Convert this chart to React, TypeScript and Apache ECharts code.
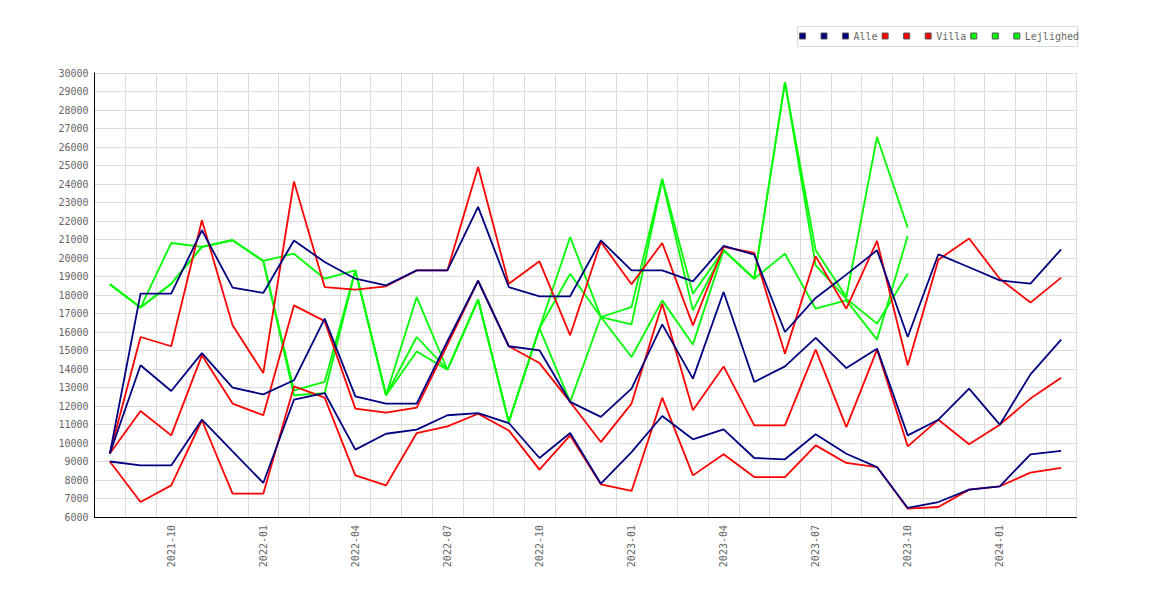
import React, { useEffect, useRef } from 'react';
import * as echarts from 'echarts';

const months = [
  '2021-08', '2021-09', '2021-10', '2021-11', '2021-12',
  '2022-01', '2022-02', '2022-03', '2022-04', '2022-05', '2022-06', '2022-07', '2022-08', '2022-09', '2022-10', '2022-11', '2022-12',
  '2023-01', '2023-02', '2023-03', '2023-04', '2023-05', '2023-06', '2023-07', '2023-08', '2023-09', '2023-10', '2023-11', '2023-12',
  '2024-01', '2024-02', '2024-03',
];

const alleHigh = [9430, 18070, 18070, 21500, 18400, 18110, 20950, 19780, 18880, 18520, 19330, 19330, 22760, 18430, 17930, 17930, 20950, 19330, 19330, 18740, 20650, 20180, 16000, 17840, 19100, 20420, 15730, 20200, 19500, 18790, 18610, 20470];
const alleMid = [9430, 14200, 12810, 14860, 12990, 12630, 13390, 16720, 12520, 12130, 12130, 15500, 18770, 15230, 15010, 12220, 11410, 12940, 16410, 13480, 18160, 13300, 14140, 15680, 14050, 15100, 10410, 11260, 12940, 10990, 13710, 15590];
const alleLow = [9000, 8790, 8790, 11260, 9550, 7840, 12340, 12700, 9640, 10500, 10720, 11500, 11620, 11080, 9190, 10540, 7800, 9510, 11460, 10200, 10740, 9190, 9120, 10470, 9420, 8700, 6490, 6810, 7480, 7660, 9390, 9570];

const villaHigh = [9430, 15730, 15230, 22040, 16360, 13780, 24140, 18430, 18290, 18470, 19330, 19330, 24920, 18610, 19820, 15820, 20860, 18580, 20810, 16360, 20600, 20270, 14830, 20090, 17260, 20920, 14200, 19910, 21050, 18880, 17590, 18940];
const villaMid = [9430, 11730, 10410, 14740, 12130, 11500, 17440, 16590, 11860, 11640, 11910, 15300, 18770, 15230, 14320, 12220, 10050, 12130, 17530, 11770, 14140, 10950, 10950, 15050, 10860, 15050, 9820, 11260, 9930, 10990, 12400, 13530];
const villaLow = [9000, 6810, 7710, 11230, 7260, 7260, 13060, 12450, 8250, 7710, 10540, 10900, 11580, 10680, 8560, 10410, 7770, 7410, 12450, 8250, 9390, 8160, 8160, 9870, 8920, 8700, 6450, 6540, 7480, 7660, 8400, 8650];

const lejlighedHigh = [18580, 17320, 20810, 20600, 20960, 19840, 20230, 18880, 19330, 12580, 17890, 13960, 17750, 11130, 16200, 21130, 16810, 17350, 24290, 18070, 20420, 18880, 29510, 20420, 17890, 26540, 21640, null, null, null, null, null];
const lejlighedMid = [18580, 17320, 18610, 20600, 20960, 19840, 12850, 13300, 19330, 12580, 15730, 13960, 17750, 11130, 16200, 19150, 16810, 16410, 24200, 17170, 20420, 18880, 29510, 19600, 17800, 16450, 19150, null, null, null, null, null];
const lejlighedLow = [18580, 17320, 18610, 20600, 20960, 19840, 12580, 12700, 19330, 12580, 14950, 13960, 17750, 11130, 16200, 12220, 16810, 14650, 17710, 15330, 20420, 18880, 20230, 17260, 17710, 15590, 21190, null, null, null, null, null];

const groupNames = ['Alle', 'Villa', 'Lejlighed'];
const groupColors = ['#000080', '#ff0000', '#00ff00'];

const FONT = "'DejaVu Sans Mono', monospace";

export default function App() {
  const ref = useRef<HTMLDivElement>(null);

  useEffect(() => {
    const chart = echarts.init(ref.current!, null, { renderer: 'svg' });
    const groupData = [
      [alleLow, alleMid, alleHigh],
      [villaLow, villaMid, villaHigh],
      [lejlighedLow, lejlighedMid, lejlighedHigh],
    ];

    const mk = (name: string, data: (number | null)[], color: string) => ({
      name,
      type: 'line',
      data,
      color,
      symbol: 'none',
      showSymbol: false,
      connectNulls: false,
      silent: true,
      lineStyle: { width: 1.8, color },
      itemStyle: { color },
      emphasis: { disabled: true },
    });

    const series: any[] = [];
    // green drawn first, then red, then blue on top
    for (let g = 2; g >= 0; g--) {
      const nm = groupNames[g];
      series.push(mk(nm + '#1', groupData[g][0], groupColors[g]));
      series.push(mk(nm + '#2', groupData[g][1], groupColors[g]));
      series.push(mk(nm, groupData[g][2], groupColors[g]));
    }

    const legendNames: string[] = [];
    groupNames.forEach((nm) => legendNames.push(nm + '#1', nm + '#2', nm));

    const textStyle = { fontFamily: FONT, fontSize: 10, color: '#666' };

    chart.setOption({
      animation: false,
      backgroundColor: '#fff',
      grid: { left: 94.5, right: 93.5, top: 73, bottom: 83, containLabel: false },
      legend: {
        data: legendNames,
        left: 799,
        top: 31,
        padding: 0,
        itemGap: 4,
        itemWidth: 6,
        itemHeight: 6,
        icon: 'rect',
        selectedMode: false,
        formatter: (n: string) => (n.indexOf('#') >= 0 ? ' ' : n),
        textStyle,
        itemStyle: { borderColor: '#555', borderWidth: 1 },
      },
      graphic: [
        {
          type: 'rect',
          z: 0,
          shape: { x: 797.5, y: 26.5, width: 280, height: 20 },
          style: { fill: '#fff', stroke: '#dcdcdc', lineWidth: 1 },
        },
      ],
      xAxis: {
        type: 'category',
        data: months,
        boundaryGap: true,
        axisLine: { show: true, lineStyle: { color: '#000', width: 1 } },
        axisTick: { show: false },
        axisLabel: {
          interval: (i: number) => i % 3 === 2,
          rotate: 90,
          margin: 8,
          ...textStyle,
        },
        splitLine: { show: true, interval: 0, lineStyle: { color: '#dcdcdc', width: 1 } },
      },
      yAxis: {
        type: 'value',
        min: 6000,
        max: 30000,
        interval: 1000,
        axisLine: { show: true, lineStyle: { color: '#000', width: 1 } },
        axisTick: { show: false },
        axisLabel: { margin: 6, formatter: (v: number) => String(v), ...textStyle },
        splitLine: { show: true, lineStyle: { color: '#dcdcdc', width: 1 } },
      },
      series,
    });

    return () => chart.dispose();
  }, []);

  return (
    <div
      ref={ref}
      style={{ position: 'absolute', left: 0, top: 0, width: 1170, height: 600 }}
    />
  );
}
